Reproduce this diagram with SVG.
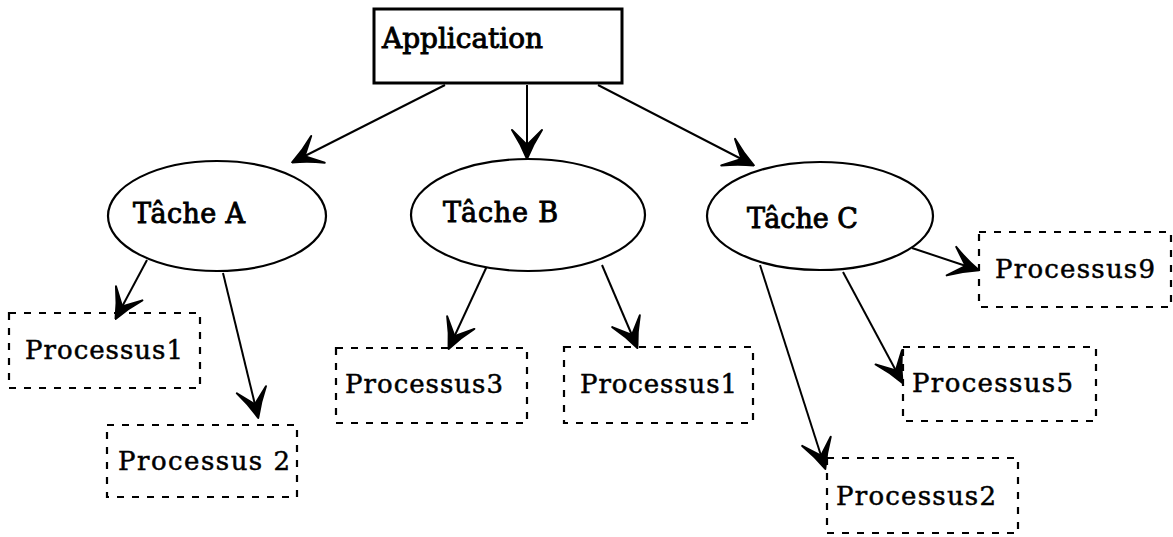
<svg xmlns="http://www.w3.org/2000/svg" width="1173" height="537" viewBox="0 0 1173 537">
<style>
  .t { font-family: "DejaVu Serif", "Liberation Serif", serif; fill: #000; stroke: #000; stroke-width: 0.5; }
  .tb { stroke-width: 0.9; }
  .app { fill: #fff; stroke: #000; stroke-width: 3; }
  .task { fill: #fff; stroke: #000; stroke-width: 2.2; }
  .proc { fill: none; stroke: #000; stroke-width: 2.2; stroke-dasharray: 7 8; }
  .edge { fill: none; stroke: #000; stroke-width: 2; marker-end: url(#arr); }
</style>
<defs>
  <marker id="arr" markerUnits="userSpaceOnUse" viewBox="-32 -18 34 36" markerWidth="34" markerHeight="36" refX="0" refY="0" orient="auto">
    <path d="M1,0 Q-14,-6 -28,-15 Q-18,-5 -13,0 Q-18,5 -28,15 Q-14,6 1,0 Z" fill="#000" stroke="#000" stroke-width="2" stroke-linejoin="round"/>
  </marker>
</defs>
<rect width="1173" height="537" fill="#fff"/>
<g id="connectors">
  <line class="edge" x1="445" y1="85" x2="293" y2="162"/>
  <line class="edge" x1="527" y1="85" x2="527" y2="158"/>
  <line class="edge" x1="598" y1="85" x2="753" y2="165"/>
  <line class="edge" x1="147" y1="260" x2="116" y2="318"/>
  <line class="edge" x1="223" y1="273" x2="258" y2="417"/>
  <line class="edge" x1="487" y1="266" x2="449" y2="348"/>
  <line class="edge" x1="602" y1="265" x2="637" y2="347"/>
  <line class="edge" x1="912" y1="248" x2="978" y2="270"/>
  <line class="edge" x1="843" y1="272" x2="902" y2="382"/>
  <line class="edge" x1="760" y1="265" x2="825" y2="468"/>
</g>
<g id="application">
  <rect class="app" x="374" y="9" width="248" height="74"/>
  <text class="t tb" x="382" y="48" font-size="28" textLength="161">Application</text>
</g>
<g id="tacheA">
  <ellipse class="task" cx="217" cy="216" rx="109" ry="55"/>
  <text class="t tb" x="133" y="223" font-size="27" textLength="112">Tâche A</text>
</g>
<g id="tacheB">
  <ellipse class="task" cx="528" cy="215" rx="117" ry="56"/>
  <text class="t tb" x="443" y="222" font-size="27" textLength="115">Tâche B</text>
</g>
<g id="tacheC">
  <ellipse class="task" cx="820" cy="216" rx="113" ry="54"/>
  <text class="t tb" x="747" y="228" font-size="27" textLength="111">Tâche C</text>
</g>
<g id="processus1a">
  <rect class="proc" x="9" y="313" width="191" height="75"/>
  <text class="t" x="25" y="359" font-size="26" textLength="158">Processus1</text>
</g>
<g id="processus2a">
  <rect class="proc" x="107" y="425" width="190" height="72"/>
  <text class="t" x="118" y="470" font-size="26" textLength="172">Processus 2</text>
</g>
<g id="processus3">
  <rect class="proc" x="336" y="348" width="191" height="75"/>
  <text class="t" x="345" y="393" font-size="26" textLength="158">Processus3</text>
</g>
<g id="processus1b">
  <rect class="proc" x="564" y="347" width="189" height="76"/>
  <text class="t" x="580" y="393" font-size="26" textLength="157">Processus1</text>
</g>
<g id="processus9">
  <rect class="proc" x="979" y="232" width="192" height="75"/>
  <text class="t" x="995" y="278" font-size="26" textLength="160">Processus9</text>
</g>
<g id="processus5">
  <rect class="proc" x="903" y="347" width="193" height="74"/>
  <text class="t" x="912" y="392" font-size="26" textLength="161">Processus5</text>
</g>
<g id="processus2c">
  <rect class="proc" x="827" y="458" width="191" height="75"/>
  <text class="t" x="836" y="505" font-size="26" textLength="160">Processus2</text>
</g>
</svg>
